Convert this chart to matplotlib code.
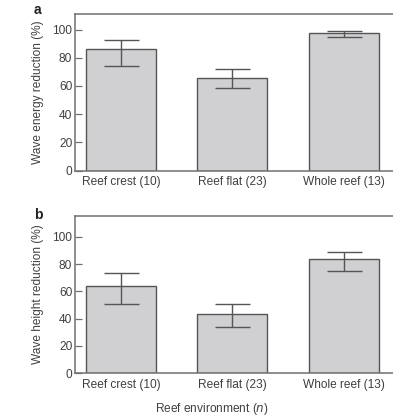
import matplotlib
matplotlib.use("Agg")
import matplotlib.pyplot as plt
import numpy as np

plt.rcParams['font.family'] = ['Liberation Sans', 'DejaVu Sans']

categories = ["Reef crest (10)", "Reef flat (23)", "Whole reef (13)"]

energy_mean = [86.2, 65.8, 97.2]
energy_upper = [92.5, 72.0, 98.9]
energy_lower = [74.3, 58.3, 94.8]

height_mean = [64.0, 43.2, 83.6]
height_upper = [73.5, 50.5, 88.7]
height_lower = [50.7, 33.8, 75.2]

yticks = [0, 20, 40, 60, 80, 100]

W, H = 393, 417
fig = plt.figure(figsize=(W / 100, H / 100), dpi=100)

text_col = "#404040"
spine_col = "#707070"
bar_face = "#d0d0d2"
bar_edge = "#555555"
fs = 8.6


def panel(rect, means, upper, lower, ylabel, ytop, letter, letter_y):
    ax = fig.add_axes(rect)
    x = np.arange(len(categories))
    means = np.asarray(means)
    yerr = np.vstack([means - np.asarray(lower), np.asarray(upper) - means])
    ax.bar(x, means, width=0.63, color=bar_face, edgecolor=bar_edge,
           linewidth=1.0, zorder=2)
    ax.errorbar(x, means, yerr=yerr, fmt="none", ecolor="#555555",
                elinewidth=1.0, capsize=12.6, capthick=1.0, zorder=3)
    ax.set_xlim(-0.414, 2.45)
    ax.set_ylim(0, ytop)
    ax.set_yticks(yticks)
    ax.set_xticks(x)
    ax.set_xticklabels(categories, fontsize=fs, color=text_col)
    ax.tick_params(axis="x", length=0, pad=4)
    ax.tick_params(axis="y", direction="in", length=5, width=0.9,
                   color=spine_col, labelsize=fs, labelcolor=text_col, pad=2)
    ax.set_ylabel(ylabel, fontsize=fs, color=text_col)
    ax.yaxis.set_label_coords(-0.097, 0.5)
    for s in ("left", "bottom", "top"):
        ax.spines[s].set_color(spine_col)
        ax.spines[s].set_linewidth(1.1)
    ax.spines["right"].set_visible(False)
    fig.text(34 / W, 1 - letter_y / H, letter, fontsize=10,
             fontweight="bold", color="#222222", ha="left", va="baseline")
    return ax


left = 75 / W
width = 1 - left + 0.002
panel([left, 1 - 170.5 / H, width, (170.5 - 14) / H],
      energy_mean, energy_upper, energy_lower,
      "Wave energy reduction (%)", 111, "a", 14)
panel([left, 1 - 373 / H, width, (373 - 215.7) / H],
      height_mean, height_upper, height_lower,
      "Wave height reduction (%)", 115.5, "b", 219)

fig.text(212 / W, 1 - 409 / H, "Reef environment ($\\it{n}$)", fontsize=fs,
         color=text_col, ha="center", va="center")

fig.savefig("out.png", dpi=100)
